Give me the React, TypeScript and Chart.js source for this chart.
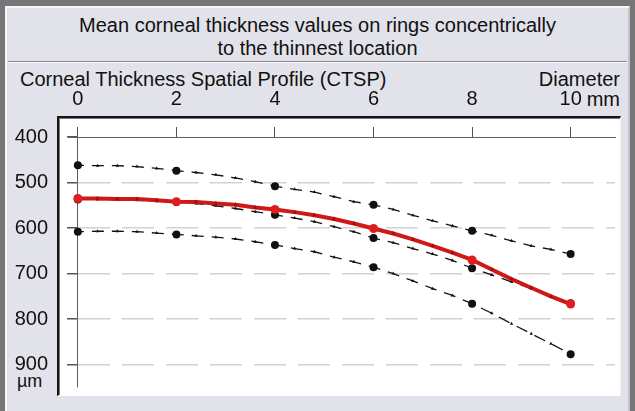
import React, { useEffect, useRef } from "react";
import { Chart, registerables } from "chart.js";

Chart.register(...registerables);

// ---- data ----
const diameters = [0, 0.4, 0.8, 1.2, 1.6, 2, 2.4, 2.8, 3.2, 3.6, 4, 4.4, 4.8, 5.2, 5.6, 6, 6.4, 6.8, 7.2, 7.6, 8, 8.4, 8.8, 9.2, 9.6, 10];
const patient = [535, 535, 536, 536, 539, 542, 543, 546, 549, 555, 559, 565, 572, 580, 590, 601, 612, 625, 639, 654, 670, 691, 712, 731, 750, 767];
const normalMean = [537, 537, 538, 539, 541, 543, 546, 551, 557, 564, 571, 578, 586, 597, 608, 622, 632, 645, 657, 671, 688, 703, 718, 733, 749, 765];
const normalLow = [462, 463, 463, 465, 469, 474, 478, 483, 490, 498, 508, 515, 521, 531, 542, 549, 559, 572, 584, 595, 606, 616, 628, 639, 647, 657];
const normalHigh = [608, 607, 607, 608, 611, 614, 617, 620, 624, 630, 637, 645, 652, 664, 674, 686, 700, 716, 733, 748, 766, 787, 810, 832, 854, 877];
const xTicks = [0, 2, 4, 6, 8, 10];
const yTicks = [400, 500, 600, 700, 800, 900];

const titleLines = ["Mean corneal thickness values on rings concentrically", "to the thinnest location"];
const subTitle = "Corneal Thickness Spatial Profile (CTSP)";
const xAxisTitle = "Diameter";
const xUnit = "mm";
const yUnit = "µm";

const FONT = "'Liberation Sans', Arial, sans-serif";
const Y_MIN = 400;
const Y_MAX = 949;

const toPoints = (vals: number[]) => diameters.map((d, i) => ({ x: d, y: vals[i] }));
const isMajor = (d: number) => Math.abs(d / 2 - Math.round(d / 2)) < 1e-6;

function dashedSet(vals: number[]) {
  return {
    data: toPoints(vals),
    borderColor: "#111111",
    borderWidth: 1.3,
    borderDash: [12, 8],
    borderDashOffset: 6,
    pointStyle: diameters.map((d) => (isMajor(d) ? "circle" : "triangle")),
    pointRadius: diameters.map((d) => (isMajor(d) ? 4 : 2)),
    pointBackgroundColor: "#111111",
    pointBorderColor: "#111111",
    pointBorderWidth: 0,
    tension: 0,
    fill: false,
  };
}

const zeroPad = (s: any) => {
  s.paddingTop = 0;
  s.paddingBottom = 0;
  s.paddingLeft = 0;
  s.paddingRight = 0;
};

export default function App() {
  const ref = useRef<HTMLCanvasElement | null>(null);

  useEffect(() => {
    if (!ref.current) return;
    const chart = new Chart(ref.current, {
      type: "line",
      data: {
        datasets: [
          {
            data: toPoints(patient),
            borderColor: "#d01818",
            borderWidth: 4,
            pointStyle: diameters.map((d) => (isMajor(d) ? "circle" : "triangle")),
            pointRadius: diameters.map((d) => (isMajor(d) ? 4.5 : 2.5)),
            pointBackgroundColor: diameters.map((d) => (isMajor(d) ? "#e01c1c" : "#9a1010")),
            pointBorderWidth: 0,
            tension: 0,
            fill: false,
          } as any,
          dashedSet(normalLow) as any,
          dashedSet(normalMean) as any,
          dashedSet(normalHigh) as any,
        ],
      },
      options: {
        responsive: false,
        devicePixelRatio: 1,
        animation: false,
        events: [],
        layout: { padding: { left: 0, right: 20, top: 57, bottom: 24 } },
        plugins: { legend: { display: false }, tooltip: { enabled: false }, title: { display: false } },
        scales: {
          x: {
            type: "linear",
            position: "top",
            min: -0.2,
            max: 10.9,
            afterFit: (s: any) => {
              s.height = 80;
              zeroPad(s);
            },
            afterBuildTicks: (s: any) => {
              s.ticks = xTicks.map((v) => ({ value: v }));
            },
            ticks: {
              padding: 16,
              color: "#111111",
              font: { family: FONT, size: 20 },
              maxRotation: 0,
              autoSkip: false,
              callback: (v: any) => String(v),
            },
            grid: { drawOnChartArea: false, drawTicks: true, tickLength: 10, color: "#555555" },
            border: { display: true, color: "#606060", width: 1 },
          },
          yLabels: {
            type: "linear",
            axis: "y",
            position: "left",
            reverse: true,
            min: Y_MIN,
            max: Y_MAX,
            afterFit: (s: any) => {
              s.width = 68;
              zeroPad(s);
            },
            afterBuildTicks: (s: any) => {
              s.ticks = yTicks.map((v) => ({ value: v }));
            },
            ticks: {
              padding: 20,
              color: "#111111",
              font: { family: FONT, size: 20 },
              autoSkip: false,
              callback: (v: any) => String(v),
            },
            grid: { display: false, drawTicks: false, drawOnChartArea: false },
            border: { display: false },
          },
          y: {
            type: "linear",
            position: { x: 0 } as any,
            reverse: true,
            min: Y_MIN,
            max: Y_MAX,
            afterFit: (s: any) => zeroPad(s),
            afterBuildTicks: (s: any) => {
              s.ticks = yTicks.map((v) => ({ value: v }));
            },
            ticks: { display: false },
            grid: {
              drawTicks: true,
              tickLength: 10,
              color: (ctx: any) => (ctx.tick && ctx.tick.value === 400 ? "rgba(0,0,0,0)" : "#d2d2d2"),
              tickColor: "#555555",
              tickBorderDash: [],
              lineWidth: 1.5,
            },
            border: { display: true, color: "#606060", width: 1, dash: [32, 12], dashOffset: -10 },
          },
        },
      } as any,
    });
    return () => chart.destroy();
  }, []);

  const text: React.CSSProperties = {
    position: "absolute",
    fontFamily: FONT,
    fontSize: 20,
    lineHeight: "23px",
    color: "#111111",
    whiteSpace: "nowrap",
  };

  return (
    <div style={{ position: "fixed", left: 0, top: 0, width: 635, height: 411, background: "#767676", overflow: "hidden" }}>
      <div
        style={{
          position: "absolute",
          left: 5,
          top: 6,
          width: 625,
          height: 420,
          boxSizing: "border-box",
          background: "#e2e2ea",
          borderTop: "2px solid #f6f6f6",
          borderLeft: "2px solid #f6f6f6",
          borderRight: "2px solid #c4c4c8",
        }}
      />
      <div style={{ position: "absolute", left: 8, top: 61, width: 619, height: 1, background: "#8a8a8e" }} />
      <div style={{ position: "absolute", left: 8, top: 62, width: 619, height: 1, background: "#fafafa" }} />
      <div
        style={{
          position: "absolute",
          left: 57,
          top: 116,
          width: 564,
          height: 280,
          boxSizing: "border-box",
          background: "#ffffff",
          borderTop: "2px solid #151515",
          borderLeft: "2px solid #151515",
          borderRight: "1px solid #f4f4f4",
          borderBottom: "1px solid #fbfbfb",
          boxShadow: "inset 1px 1px 0 #7a7a7a",
        }}
      />
      <div style={{ ...text, left: 0, top: 14, width: 635, textAlign: "center" }}>
        {titleLines.map((l, i) => (
          <div key={i}>{l}</div>
        ))}
      </div>
      <div style={{ ...text, left: 20, top: 68 }}>{subTitle}</div>
      <div style={{ ...text, right: 15, top: 68 }}>{xAxisTitle}</div>
      <div style={{ ...text, right: 15, top: 88 }}>{xUnit}</div>
      <div style={{ ...text, left: 17, top: 371, fontSize: 18, lineHeight: "20px" }}>{yUnit}</div>
      <canvas ref={ref} width={635} height={411} style={{ position: "absolute", left: 0, top: 0 }} />
    </div>
  );
}
